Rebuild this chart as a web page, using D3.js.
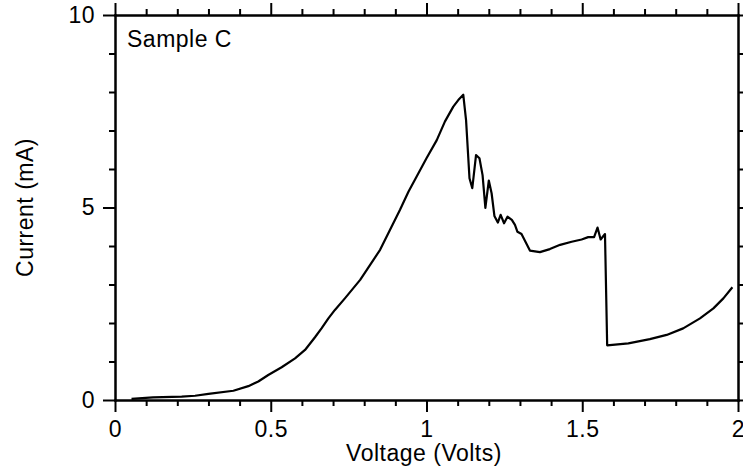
<!DOCTYPE html>
<html>
<head>
<meta charset="utf-8">
<script src="https://cdn.jsdelivr.net/npm/d3@7"></script>
<style>
    html, body {margin: 0; padding: 0; background: #fff;}
    svg text {font-family: "Liberation Sans", Arial, Helvetica, sans-serif; fill: #000; letter-spacing: 0.5px;}
    .axis path, .axis line {stroke: #000; stroke-width: 2px;}
</style>
</head>
<body>
<svg id="chart" width="743" height="467"></svg>
<script>
// measured I-V curve, sample C
var voltage = [0.053, 0.122, 0.214, 0.257, 0.30, 0.38, 0.428, 0.46, 0.492, 0.535,
    0.578, 0.61, 0.642, 0.663, 0.685, 0.706, 0.738, 0.787, 0.819, 0.851,
    0.883, 0.915, 0.942, 0.968, 1.0, 1.033, 1.059, 1.086, 1.102, 1.118,
    1.127, 1.138, 1.147, 1.159, 1.17, 1.18, 1.189, 1.2, 1.209, 1.218,
    1.229, 1.238, 1.249, 1.26, 1.274, 1.284, 1.292, 1.305, 1.332, 1.364,
    1.396, 1.429, 1.466, 1.498, 1.519, 1.538, 1.549, 1.559, 1.573, 1.58,
    1.648, 1.717, 1.771, 1.824, 1.878, 1.921, 1.953, 1.982];
var current = [0.03, 0.07, 0.09, 0.11, 0.16, 0.24, 0.36, 0.48, 0.65, 0.85,
    1.08, 1.30, 1.63, 1.86, 2.12, 2.34, 2.64, 3.12, 3.51, 3.90,
    4.42, 4.94, 5.41, 5.80, 6.28, 6.75, 7.23, 7.62, 7.79, 7.93,
    7.27, 5.76, 5.50, 6.36, 6.28, 5.84, 4.99, 5.70, 5.37, 4.78,
    4.61, 4.81, 4.59, 4.76, 4.68, 4.55, 4.37, 4.31, 3.88, 3.84,
    3.92, 4.03, 4.11, 4.17, 4.23, 4.23, 4.48, 4.17, 4.31, 1.42,
    1.47, 1.58, 1.69, 1.86, 2.12, 2.38, 2.64, 2.93];

var xMajorTicks = [0, 0.5, 1, 1.5, 2];
var xMinorTicks = [0.1, 0.2, 0.3, 0.4, 0.6, 0.7, 0.8, 0.9, 1.1, 1.2, 1.3, 1.4, 1.6, 1.7, 1.8, 1.9];
var yMajorTicks = [0, 5, 10];
var yMinorTicks = [1, 2, 3, 4, 6, 7, 8, 9];

var sampleName = 'Sample C';
var xTitle = 'Voltage (Volts)';
var yTitle = 'Current (mA)';

function drawChart() {
    var left = 115, right = 738, top = 15, bottom = 400;
    var fontSize = 23;
    var svg = d3.select('#chart');

    var x = d3.scaleLinear().domain([0, 2]).range([left, right]);
    var y = d3.scaleLinear().domain([0, 10]).range([bottom, top]);

    // bottom
    svg.append('g').attr('class', 'axis').attr('transform', 'translate(0,' + bottom + ')')
        .call(d3.axisBottom(x).tickValues(xMinorTicks).tickSize(6).tickSizeOuter(0).tickFormat(''));
    svg.append('g').attr('class', 'axis xlab').attr('transform', 'translate(0,' + bottom + ')')
        .call(d3.axisBottom(x).tickValues(xMajorTicks).tickSize(12).tickSizeOuter(0).tickPadding(9)
            .tickFormat(d3.format('~g')));
    // top
    svg.append('g').attr('class', 'axis').attr('transform', 'translate(0,' + top + ')')
        .call(d3.axisTop(x).tickValues(xMinorTicks).tickSize(6).tickSizeOuter(0).tickFormat(''));
    svg.append('g').attr('class', 'axis').attr('transform', 'translate(0,' + top + ')')
        .call(d3.axisTop(x).tickValues(xMajorTicks).tickSize(12).tickSizeOuter(0).tickFormat(''));
    // left
    svg.append('g').attr('class', 'axis').attr('transform', 'translate(' + left + ',0)')
        .call(d3.axisLeft(y).tickValues(yMinorTicks).tickSize(6).tickSizeOuter(0).tickFormat(''));
    svg.append('g').attr('class', 'axis ylab').attr('transform', 'translate(' + left + ',0)')
        .call(d3.axisLeft(y).tickValues(yMajorTicks).tickSize(12).tickSizeOuter(0).tickPadding(8));
    // right
    svg.append('g').attr('class', 'axis').attr('transform', 'translate(' + right + ',0)')
        .call(d3.axisRight(y).tickValues(yMinorTicks).tickSize(6).tickSizeOuter(0).tickFormat(''));
    svg.append('g').attr('class', 'axis').attr('transform', 'translate(' + right + ',0)')
        .call(d3.axisRight(y).tickValues(yMajorTicks).tickSize(12).tickSizeOuter(0).tickFormat(''));

    svg.selectAll('.axis text').attr('font-size', fontSize)
        .style('font-family', '"Liberation Sans", Arial, sans-serif').attr('fill', '#000');
    svg.selectAll('.axis path').attr('stroke-linecap', 'square');

    var points = voltage.map(function (v, i) {
        return [v, current[i]];
    });
    var line = d3.line()
        .x(function (d) { return x(d[0]); })
        .y(function (d) { return y(d[1]); });
    svg.append('path').datum(points)
        .attr('d', line)
        .attr('fill', 'none')
        .attr('stroke', '#000')
        .attr('stroke-width', 2.2)
        .attr('stroke-linejoin', 'round');

    svg.append('text').attr('x', 127).attr('y', 47)
        .attr('font-size', fontSize).text(sampleName);

    svg.append('text').attr('x', 424).attr('y', 461)
        .attr('text-anchor', 'middle').attr('font-size', fontSize).text(xTitle);

    svg.append('text').attr('transform', 'translate(33,' + (top + bottom) / 2 + ') rotate(-90)')
        .attr('text-anchor', 'middle').attr('font-size', fontSize).text(yTitle);
}

drawChart();
</script>
</body>
</html>
